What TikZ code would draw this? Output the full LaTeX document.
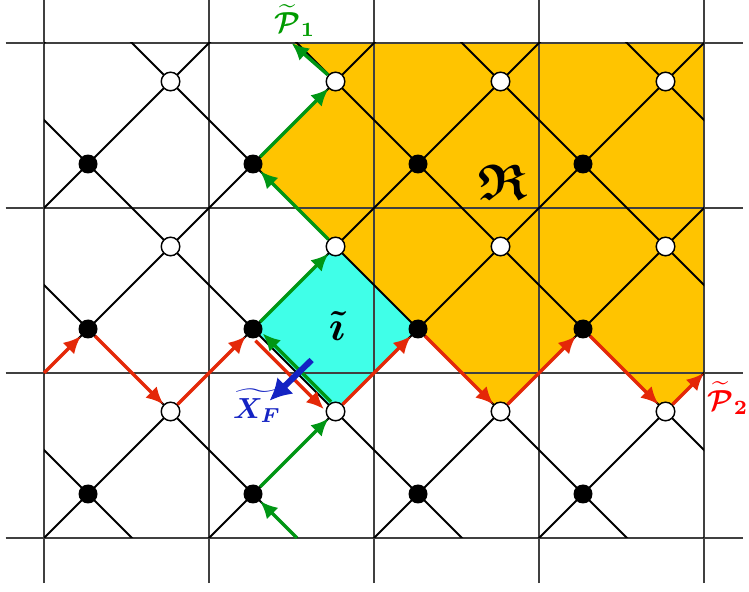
\documentclass[tikz,border=0pt]{standalone}
\usepackage{amsmath, amssymb}
\usepackage{bm}
\usepackage{xcolor}
\usepackage{tikz}
\usetikzlibrary{calc, arrows.meta}

\definecolor{regionorange}{RGB}{255,196,0}
\definecolor{regioncyan}{RGB}{64,255,232}
\definecolor{pathred}{RGB}{228,40,8}
\definecolor{pathgreen}{RGB}{0,150,20}
\definecolor{labelgreen}{RGB}{0,155,0}
\definecolor{arrowblue}{RGB}{20,35,195}

\begin{document}
\begin{tikzpicture}[>={Latex[length=6pt,width=5.6pt]},
    bdot/.style={circle, fill=black, inner sep=0pt, minimum size=0.23cm},
    wdot/.style={circle, draw=black, fill=white, line width=0.5pt, inner sep=0pt, minimum size=0.225cm},
    diag/.style={line width=0.7pt},
    gridline/.style={black!75, line width=0.4pt},
    redpath/.style={draw=pathred, line width=1.2pt, ->},
    greenpath/.style={draw=pathgreen, line width=1.2pt, ->}]
    \useasboundingbox (-1.067,-1.188) rectangle (8.012,5.988);

    % Vùng tô màu
    \fill[regionorange] (2.467,5.467) -- (7.467,5.467) -- (7.467,1.467) -- (7,1) -- (6,2)
        -- (5,1) -- (4,2) -- (3,3) -- (2,4) -- (3,5) -- cycle;
    \fill[regioncyan] (2,2) -- (3,3) -- (4,2) -- (3,1) -- cycle;

    % Lưới
    \foreach \g in {-0.533,1.467,3.467,5.467,7.467} {
        \draw[gridline] (\g,-1.08) -- (\g,5.99);
    }
    \foreach \g in {-0.533,1.467,3.467,5.467} {
        \draw[gridline] (-1,\g) -- (7.94,\g);
    }

    % Các đường chéo
    \begin{scope}
        \clip (-0.533,-0.533) rectangle (7.467,5.467);
        \foreach \c in {-6,-4,...,8} {
            \draw[diag] (\c-1,-1) -- (\c+7,7);
        }
        \foreach \c in {0,2,...,12} {
            \draw[diag] (\c+1,-1) -- (\c-7,7);
        }
    \end{scope}

    % Các điểm
    \foreach \x in {0,2,4,6} {
        \foreach \y in {0,2,4} {
            \node[bdot] (b\x\y) at (\x,\y) {};
        }
    }
    \foreach \x in {1,3,5,7} {
        \foreach \y in {1,3,5} {
            \node[wdot] (w\x\y) at (\x,\y) {};
        }
    }

    % Đường đỏ
    \coordinate (redin) at (-0.533,1.467);
    \coordinate (redout) at (7.467,1.467);
    \foreach \a/\b in {redin/b02, b02/w11, w11/b22, w31/b42, b42/w51, w51/b62, b62/w71, w71/redout} {
        \draw[redpath] (\a) -- (\b);
    }
    \draw[redpath, transform canvas={xshift=-1.6pt, yshift=-1.6pt}] (b22) -- (w31);

    % Đường xanh
    \coordinate (greenin) at (2.533,-0.533);
    \coordinate (greenout) at (2.467,5.467);
    \foreach \a/\b in {greenin/b20, b20/w31, b22/w33, w33/b24, b24/w35, w35/greenout} {
        \draw[greenpath] (\a) -- (\b);
    }
    \draw[greenpath, transform canvas={xshift=0.9pt, yshift=0.9pt}] (w31) -- (b22);

    % Mũi tên X_F
    \coordinate (xftail) at (2.71,1.624);
    \coordinate (xfhead) at (2.2,1.13);
    \draw[arrowblue, line width=2.1pt, -{Latex[length=7.5pt,width=8pt]}] (xftail) -- (xfhead);

    % Nhãn
    \node[text=labelgreen] (p1) at (2.51,5.74) {$\boldsymbol{\widetilde{\mathcal{P}}_1}$};
    \node[text=red] (p2) at (7.76,1.16) {$\boldsymbol{\widetilde{\mathcal{P}}_2}$};
    \node[text=arrowblue] (xf) at (2.05,1.07) {$\boldsymbol{\widetilde{X_F}}$};
    \node (itilde) at (3.02,2.04) {\Large$\boldsymbol{\tilde{\imath}}$};
    \node (frakr) at (5.03,3.78) {\LARGE$\boldsymbol{\mathfrak{R}}$};
\end{tikzpicture}
\end{document}
